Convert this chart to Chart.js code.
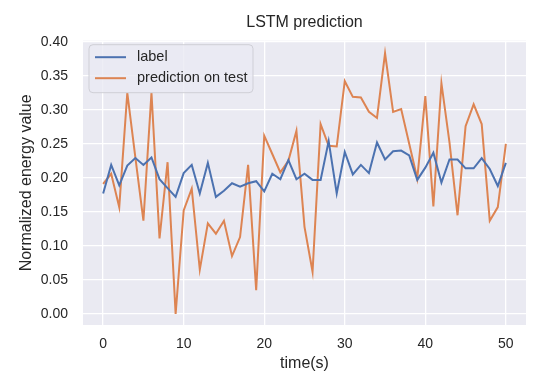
<!DOCTYPE html>
<html>
<head>
<meta charset="utf-8">
<script src="https://cdn.jsdelivr.net/npm/chart.js@4"></script>
<style>
  body { margin: 0; background: #ffffff; }
  canvas { display: block; }
</style>
</head>
<body>
<canvas id="lstmChart" width="560" height="385"></canvas>
<script>
// time steps (s)
var timeSteps = [0,1,2,3,4,5,6,7,8,9,10,11,12,13,14,15,16,17,18,19,20,21,22,23,24,25,26,27,28,29,30,31,32,33,34,35,36,37,38,39,40,41,42,43,44,45,46,47,48,49,50];
// true values
var labelValues = [0.177,0.219,0.189,0.218,0.229,0.219,0.230,0.198,0.185,0.172,
                   0.207,0.219,0.177,0.222,0.172,0.181,0.192,0.187,0.192,0.195,
                   0.180,0.206,0.198,0.226,0.198,0.206,0.197,0.197,0.254,0.177,
                   0.238,0.205,0.219,0.207,0.252,0.227,0.239,0.240,0.233,0.197,
                   0.215,0.237,0.193,0.227,0.227,0.214,0.214,0.229,0.213,0.188,0.222];
// model output
var predValues = [0.191,0.206,0.157,0.325,0.230,0.137,0.325,0.111,0.223,0.000,
                  0.152,0.184,0.065,0.133,0.118,0.137,0.085,0.113,0.219,0.035,
                  0.262,0.235,0.208,0.225,0.269,0.128,0.062,0.279,0.247,0.246,
                  0.342,0.319,0.318,0.297,0.288,0.383,0.297,0.301,0.250,0.199,
                  0.320,0.158,0.339,0.252,0.145,0.276,0.308,0.279,0.137,0.157,0.250];
var seriesNames = ["label", "prediction on test"];
var xTicks = [0,10,20,30,40,50];
var yTicks = [0,0.05,0.10,0.15,0.20,0.25,0.30,0.35,0.40];

function toPoints(vals){
    var pts = [];
    for(var i=0;i<vals.length;i++){
        pts.push({x: timeSteps[i], y: vals[i]});
    }
    return pts;
}

var textColor = "#262626";
var fontFam = "'Liberation Sans', Arial, sans-serif";

// grey panel behind the plot, like seaborn darkgrid
var panelBg = {
    id: "panelBg",
    beforeDraw: function(chart){
        var a = chart.chartArea, ctx = chart.ctx;
        ctx.save();
        ctx.fillStyle = "#eaeaf2";
        ctx.fillRect(a.left, a.top, a.right-a.left, a.bottom-a.top);
        ctx.restore();
    }
};

// matplotlib style legend inside the axes
var boxLegend = {
    id: "boxLegend",
    afterDatasetsDraw: function(chart){
        var a = chart.chartArea, ctx = chart.ctx;
        var x = a.left + 6, y = a.top + 4, w = 164, h = 48, r = 4;
        ctx.save();
        ctx.beginPath();
        ctx.moveTo(x+r, y);
        ctx.arcTo(x+w, y, x+w, y+h, r);
        ctx.arcTo(x+w, y+h, x, y+h, r);
        ctx.arcTo(x, y+h, x, y, r);
        ctx.arcTo(x, y, x+w, y, r);
        ctx.closePath();
        ctx.fillStyle = "rgba(234,234,242,0.8)";
        ctx.fill();
        ctx.strokeStyle = "#cfcfd6";
        ctx.lineWidth = 1;
        ctx.stroke();
        ctx.font = "14.5px " + fontFam;
        ctx.textBaseline = "middle";
        ctx.textAlign = "left";
        var ds = chart.data.datasets;
        for(var i=0;i<ds.length;i++){
            var ly = y + 12.5 + i*21;
            ctx.strokeStyle = ds[i].borderColor;
            ctx.lineWidth = 2;
            ctx.beginPath();
            ctx.moveTo(x+6, ly);
            ctx.lineTo(x+37, ly);
            ctx.stroke();
            ctx.fillStyle = textColor;
            ctx.fillText(ds[i].label, x+48, ly);
        }
        ctx.restore();
    }
};

var ctx1 = document.getElementById("lstmChart").getContext("2d");
var myChart = new Chart(ctx1, {
    type: "line",
    data: {
        datasets: [{
            label: seriesNames[0],
            data: toPoints(labelValues),
            borderColor: "#4c72b0",
            backgroundColor: "#4c72b0",
            borderWidth: 2,
            pointRadius: 0,
            tension: 0
        },{
            label: seriesNames[1],
            data: toPoints(predValues),
            borderColor: "#dd8452",
            backgroundColor: "#dd8452",
            borderWidth: 2,
            pointRadius: 0,
            tension: 0
        }]
    },
    options: {
        responsive: false,
        animation: false,
        layout: { padding: { top: 0, right: 34, bottom: 0, left: 0 } },
        plugins: {
            legend: { display: false },
            tooltip: { enabled: false },
            title: {
                display: true,
                fullSize: false,
                text: "LSTM prediction",
                color: textColor,
                font: { family: fontFam, size: 16, weight: "normal" },
                padding: { top: 12.5, bottom: 9 }
            }
        },
        scales: {
            x: {
                type: "linear",
                min: -2.5,
                max: 52.5,
                afterBuildTicks: function(scale){
                    scale.ticks = xTicks.map(function(v){ return {value: v}; });
                },
                afterFit: function(scale){ scale.height = 60; },
                grid: { color: "#ffffff", lineWidth: 1.3, drawTicks: false },
                border: { display: false },
                ticks: {
                    color: textColor,
                    padding: 11,
                    maxRotation: 0,
                    font: { family: fontFam, size: 14 }
                },
                title: {
                    display: true,
                    text: "time(s)",
                    color: textColor,
                    font: { family: fontFam, size: 16 },
                    padding: { top: 0, bottom: 12 }
                }
            },
            y: {
                min: -0.0162,
                max: 0.4015,
                afterBuildTicks: function(scale){
                    scale.ticks = yTicks.map(function(v){ return {value: v}; });
                },
                afterFit: function(scale){ scale.width = 83; },
                grid: { color: "#ffffff", lineWidth: 1.3, drawTicks: false },
                border: { display: false },
                ticks: {
                    color: textColor,
                    padding: 15,
                    font: { family: fontFam, size: 14 },
                    callback: function(v){ return Number(v).toFixed(2); }
                },
                title: {
                    display: true,
                    text: "Normalized energy value",
                    color: textColor,
                    font: { family: fontFam, size: 16 },
                    padding: { top: 17, bottom: 0 }
                }
            }
        }
    },
    plugins: [panelBg, boxLegend]
});
</script>
</body>
</html>
